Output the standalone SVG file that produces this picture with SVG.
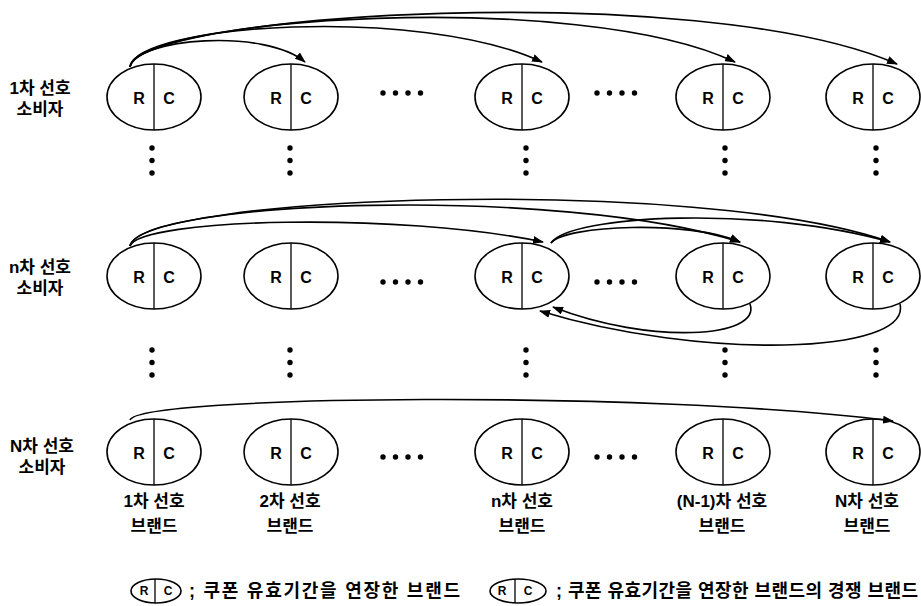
<svg xmlns="http://www.w3.org/2000/svg" width="921" height="606" viewBox="0 0 921 606">
<defs>
<style>
.el{fill:#fff;stroke:#000;stroke-width:1.6}
.dv{stroke:#000;stroke-width:1.3}
.rc{font-family:"Liberation Sans",Arial,sans-serif;font-weight:bold;font-size:16px;text-anchor:middle;fill:#000}
.kr{font-family:"Liberation Sans","Noto Sans CJK KR",sans-serif;font-weight:bold;font-size:17px;text-anchor:middle;fill:#000}
.lg{font-family:"Liberation Sans","Noto Sans CJK KR",sans-serif;font-weight:bold;font-size:18px;fill:#000}
.lrc{font-family:"Liberation Sans",Arial,sans-serif;font-weight:bold;font-size:12px;text-anchor:middle;fill:#000}
.cn{fill:none;stroke:#000;stroke-width:1.6;marker-end:url(#ah)}
.dot{fill:#000}
</style>
<marker id="ah" markerWidth="11" markerHeight="8" refX="10" refY="4" orient="auto" markerUnits="userSpaceOnUse">
<path d="M0,0 L11,4 L0,8 z" fill="#000"/>
</marker>
<g id="node">
<ellipse class="el" cx="0" cy="0" rx="47" ry="33"/>
<line class="dv" x1="0" y1="-33" x2="0" y2="33"/>
<text class="rc" x="-15" y="7">R</text>
<text class="rc" x="15" y="7">C</text>
</g>
<g id="hd">
<circle class="dot" cx="0" cy="0" r="2.7"/>
<circle class="dot" cx="12.5" cy="0" r="2.7"/>
<circle class="dot" cx="25" cy="0" r="2.7"/>
<circle class="dot" cx="37.5" cy="0" r="2.7"/>
</g>
<g id="vd">
<circle class="dot" cx="0" cy="0" r="2.7"/>
<circle class="dot" cx="0" cy="12.5" r="2.7"/>
<circle class="dot" cx="0" cy="25" r="2.7"/>
</g>
</defs>
<rect width="921" height="606" fill="#fff"/>

<g id="row-labels">
<text class="kr" x="40" y="94">1차 선호</text>
<text class="kr" x="40" y="115">소비자</text>
<text class="kr" x="40" y="273">n차 선호</text>
<text class="kr" x="40" y="294">소비자</text>
<text class="kr" x="42" y="452">N차 선호</text>
<text class="kr" x="42" y="473">소비자</text>
</g>

<g id="row1">
<use id="r1c1" href="#node" x="154" y="97"/>
<use id="r1c2" href="#node" x="291" y="97"/>
<use id="r1c3" href="#node" x="522" y="97"/>
<use id="r1c4" href="#node" x="723" y="97"/>
<use id="r1c5" href="#node" x="873" y="97"/>
</g>
<g id="row2">
<use id="r2c1" href="#node" x="154" y="276"/>
<use id="r2c2" href="#node" x="291" y="276"/>
<use id="r2c3" href="#node" x="522" y="276"/>
<use id="r2c4" href="#node" x="723" y="276"/>
<use id="r2c5" href="#node" x="873" y="276"/>
</g>
<g id="row3">
<use id="r3c1" href="#node" x="154" y="452"/>
<use id="r3c2" href="#node" x="291" y="452"/>
<use id="r3c3" href="#node" x="522" y="452"/>
<use id="r3c4" href="#node" x="723" y="452"/>
<use id="r3c5" href="#node" x="873" y="452"/>
</g>

<g id="ellipsis">
<use href="#hd" x="383" y="93"/>
<use href="#hd" x="597" y="93"/>
<use href="#hd" x="383" y="282"/>
<use href="#hd" x="597" y="282"/>
<use href="#hd" x="383" y="457"/>
<use href="#hd" x="597" y="457"/>
<use href="#vd" x="152" y="148"/>
<use href="#vd" x="290" y="148"/>
<use href="#vd" x="526" y="148"/>
<use href="#vd" x="725" y="148"/>
<use href="#vd" x="876" y="148"/>
<use href="#vd" x="152" y="350"/>
<use href="#vd" x="290" y="350"/>
<use href="#vd" x="526" y="350"/>
<use href="#vd" x="725" y="350"/>
<use href="#vd" x="876" y="350"/>
</g>

<g id="connectors">
<path class="cn" d="M130,67 C136,38 265,28 305,62"/>
<path class="cn" d="M130,67 C136,24 420,5 542,62"/>
<path class="cn" d="M130,67 C136,18 580,-12 735,62"/>
<path class="cn" d="M130,67 C136,14 700,-22 897,64"/>
<path class="cn" d="M130,246 C140,218 400,212 543,242"/>
<path class="cn" d="M130,246 C140,200 560,185 740,242"/>
<path class="cn" d="M130,246 C140,195 700,175 890,242"/>
<path class="cn" d="M551,243 C565,225 690,220 740,242"/>
<path class="cn" d="M551,243 C570,215 760,205 890,242"/>
<path class="cn" d="M750,304 C762,338 650,345 553,307"/>
<path class="cn" d="M900,304 C912,355 700,360 540,311"/>
<path class="cn" d="M130,420 C140,395 650,390 893,421"/>
</g>

<g id="brand-labels">
<text class="kr" x="154" y="507">1차 선호</text>
<text class="kr" x="154" y="532">브랜드</text>
<text class="kr" x="290" y="507">2차 선호</text>
<text class="kr" x="290" y="532">브랜드</text>
<text class="kr" x="522" y="507">n차 선호</text>
<text class="kr" x="522" y="532">브랜드</text>
<text class="kr" x="722" y="507">(N-1)차 선호</text>
<text class="kr" x="722" y="532">브랜드</text>
<text class="kr" x="867" y="507">N차 선호</text>
<text class="kr" x="867" y="532">브랜드</text>
</g>

<g id="legend1">
<ellipse class="el" cx="156" cy="591" rx="25" ry="12"/>
<line class="dv" x1="155" y1="579" x2="155" y2="603"/>
<text class="lrc" x="144" y="595">R</text>
<text class="lrc" x="168" y="595">C</text>
<text class="lg" x="189" y="597" textLength="271" lengthAdjust="spacing">; 쿠폰 유효기간을 연장한 브랜드</text>
</g>
<g id="legend2">
<ellipse class="el" cx="518" cy="591" rx="28" ry="12"/>
<line class="dv" x1="515" y1="579" x2="515" y2="603"/>
<text class="lrc" x="502" y="595">R</text>
<text class="lrc" x="528" y="595">C</text>
<text class="lg" x="556" y="597" textLength="362" lengthAdjust="spacing">; 쿠폰 유효기간을 연장한 브랜드의 경쟁 브랜드</text>
</g>
</svg>
